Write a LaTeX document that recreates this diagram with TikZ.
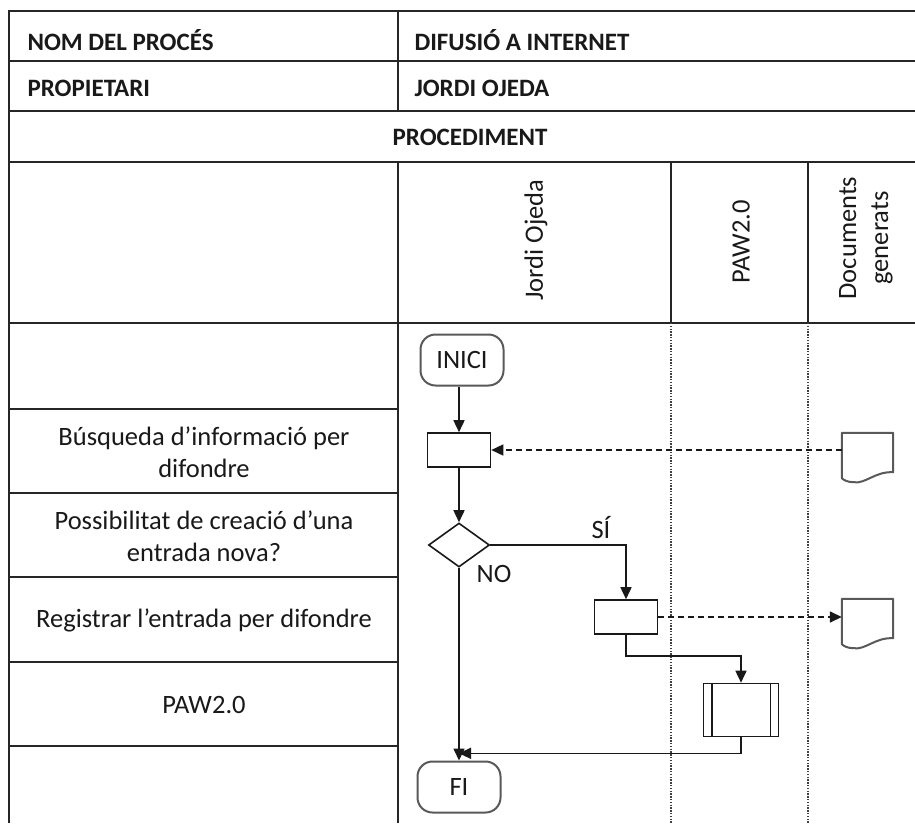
\documentclass[tikz,border=0pt]{standalone}
\usepackage{fontspec}
\setmainfont{Carlito}
\usetikzlibrary{arrows.meta,shapes.geometric,calc}
\begin{document}
\begin{tikzpicture}[x=1pt,y=-1pt,
  grid/.style={line width=2pt,draw=black!85},
  lanesep/.style={line width=1.4pt,draw=black!75,dash pattern=on 1.4pt off 1.4pt},
  body/.style={font=\fontsize{26.5}{32}\selectfont,text=black!90},
  head/.style={font=\bfseries\fontsize{25}{30}\selectfont,text=black!90,anchor=west},
  lanehead/.style={body,rotate=90,align=center},
  stepbox/.style={draw=black!90,line width=1.6pt,minimum width=63pt,minimum height=34pt,inner sep=0pt},
  terminal/.style={draw=black!65,line width=2pt,rounded corners=15pt,minimum width=83pt,minimum height=51pt,inner sep=0pt,body},
  choice/.style={diamond,draw=black!90,line width=1.6pt,minimum width=61pt,minimum height=44pt,inner sep=0pt,aspect=1.4},
  subproc/.style={draw=black!90,line width=1.6pt,minimum width=75pt,minimum height=53pt,inner sep=0pt},
  docbox/.style={draw=none,minimum width=51pt,minimum height=39pt,inner sep=0pt},
  docline/.style={draw=black!65,line width=2pt,line join=round},
  flow/.style={line width=1.6pt,draw=black!90,-{Triangle[length=12pt,width=11pt]}},
  dataflow/.style={flow,dash pattern=on 6pt off 4pt},
  tag/.style={body,inner sep=0pt}
]
\useasboundingbox (0,0) rectangle (915,823);
\fill[white] (0,0) rectangle (915,823);

% ---- table frame ----
\draw[grid] (915,11) -- (9,11) -- (9,823);
\draw[grid] (9,61) -- (915,61);
\draw[grid] (9,111) -- (915,111);
\draw[grid] (9,162) -- (915,162);
\draw[grid] (9,323) -- (915,323);
\draw[grid] (398,11) -- (398,111);
\draw[grid] (398,162) -- (398,823);
\foreach \yy in {409,493,577,662,746} \draw[grid] (9,\yy) -- (398,\yy);
% lane separators
\draw[grid] (671,162) -- (671,323);
\draw[grid] (808,162) -- (808,323);
\draw[lanesep] (671,323) -- (671,823);
\draw[lanesep] (808,323) -- (808,823);

% ---- header texts ----
\node[head] (hname) at (24,40) {NOM DEL PROCÉS};
\node[head] (hnameval) at (411,40) {DIFUSIÓ A INTERNET};
\node[head] (hown) at (24,88) {PROPIETARI};
\node[head] (hownval) at (411,88) {JORDI OJEDA};
\node[head,anchor=center] (hproc) at (470,137) {PROCEDIMENT};
\node[lanehead] (l1) at (536,240) {Jordi Ojeda};
\node[lanehead] (l2) at (741,242) {PAW2.0};
\node[lanehead] (l3) at (866,238) {Documents\\generats};

% ---- step descriptions ----
\node[body,align=center] (s1) at (204,452) {Búsqueda d’informació per\\difondre};
\node[body,align=center] (s2) at (204,536) {Possibilitat de creació d’una\\entrada nova?};
\node[body] (s3) at (204,620) {Registrar l’entrada per difondre};
\node[body] (s4) at (204,705) {PAW2.0};

% ---- flowchart ----
\node[terminal] (start) at (462,360) {INICI};
\node[stepbox] (b1) at (459,450) {};
\node[choice] (d) at (459,545) {};
\node[stepbox] (b2) at (626,617) {};
\node[subproc] (sp) at (741,710) {};
\draw[black!90,line width=1.6pt] ([xshift=9pt]sp.north west) -- ([xshift=9pt]sp.south west);
\draw[black!90,line width=1.6pt] ([xshift=-9pt]sp.north east) -- ([xshift=-9pt]sp.south east);
\node[terminal] (fi) at (459,787) {FI};

\node[docbox] (doc1) at (867.5,452.5) {};
\node[docbox] (doc2) at (867.5,618.5) {};
\foreach \dd in {doc1,doc2}{
  \draw[docline] (\dd.north west) -- (\dd.north east)
    -- (\dd.south east)
    .. controls ($(\dd.south east)+(-18,-1)$) and ($(\dd.south east)+(-28,12)$) .. ($(\dd.south west)+(12,10)$)
    .. controls ($(\dd.south west)+(6,10)$) and ($(\dd.south west)+(2,8)$) .. ($(\dd.south west)+(0,6)$)
    -- cycle;
}

\draw[flow] (start.south -| b1.north) -- (b1.north);
\draw[flow] (b1.south) -- (d.north);
\draw[dataflow] (doc1.west |- b1.east) -- (b1.east);
\draw[flow] (d.east) -| (b2.north);
\draw[flow] (d.south) -- (fi.north);
\draw[dataflow] (b2.east) -- (doc2.west |- b2.east);
\coordinate (b2b) at ($(b2.south)+(0,21)$);
\draw[flow] (b2.south) -- (b2b) -| (sp.north);
\coordinate (spb) at ($(sp.south)+(0,16)$);
\draw[flow] (sp.south) -- (spb) -- (spb -| fi.north);

\node[tag] (yes) at (601,528) {SÍ};
\node[tag] (no) at (494,574) {NO};
\end{tikzpicture}
\end{document}
